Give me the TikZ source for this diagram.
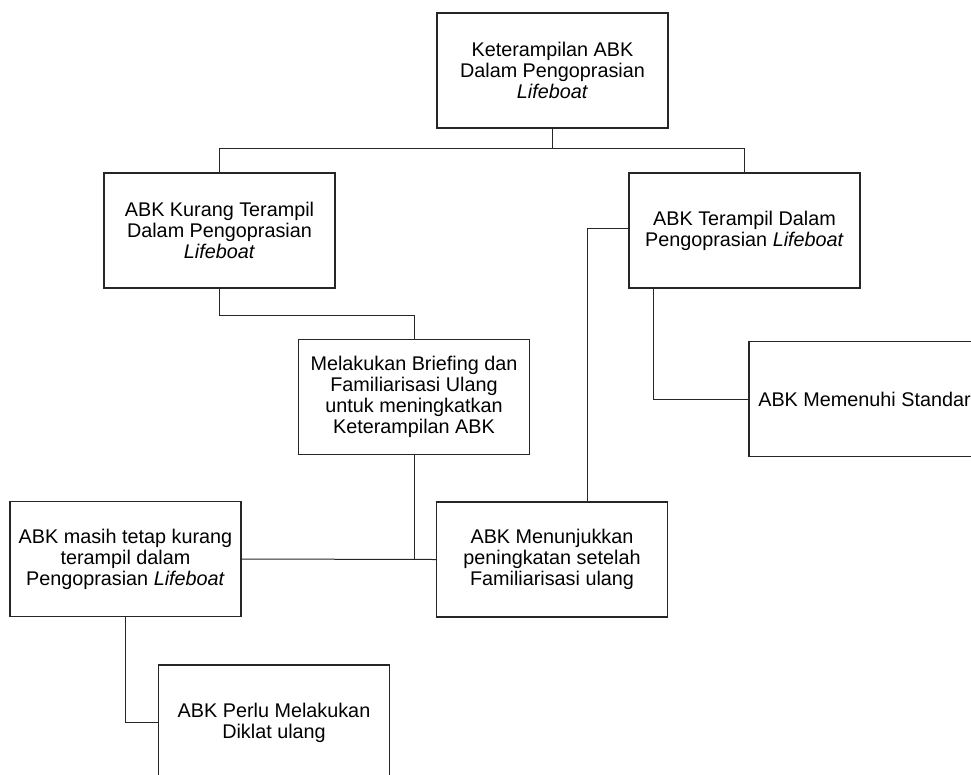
\documentclass[tikz,border=0pt]{standalone}
\usepackage{fontspec}
\setmainfont{Liberation Sans}
\usetikzlibrary{calc}

\tikzset{
  kasten/.style={draw=black!85, line width=1.1pt, minimum width=231pt,
    minimum height=115pt, inner sep=0pt, align=center,
    font=\fontsize{19.8}{21}\selectfont},
  linie/.style={draw=black!85, line width=1pt}
}

\begin{document}
\begin{tikzpicture}[x=1pt,y=-1pt]
\useasboundingbox (0,0) rectangle (971,774);
\clip (0,0) rectangle (971,774);

%EBENE NR. 0 (von oben)
\node [kasten] (ziel) at (552.5,70.5) {Keterampilan ABK\\Dalam Pengoprasian\\\textit{Lifeboat}};

%EBENE NR. 1 (von oben)
\node [kasten] (kurang) at (219.5,230.5) {ABK Kurang Terampil\\Dalam Pengoprasian\\\textit{Lifeboat}};
\node [kasten] (terampil) at (744.5,230.5) {ABK Terampil Dalam\\Pengoprasian \textit{Lifeboat}};

%EBENE NR. 2 (von oben)
\node [kasten] (briefing) at (414,397) {Melakukan Briefing dan\\Familiarisasi Ulang\\untuk meningkatkan\\Keterampilan ABK};
\node [kasten] (standar) at (864.5,399) {ABK Memenuhi Standar};

%EBENE NR. 3 (von oben)
\node [kasten] (masih) at (125.5,559) {ABK masih tetap kurang\\terampil dalam\\Pengoprasian \textit{Lifeboat}};
\node [kasten] (naik) at (552,559.5) {ABK Menunjukkan\\peningkatan setelah\\Familiarisasi ulang};

%EBENE NR. 4 (von oben)
\node [kasten] (diklat) at (274,722.5) {ABK Perlu Melakukan\\Diklat ulang};

%VERBINDUNGEN
\coordinate (gabel) at (552.5,148.5);
\draw [linie] (ziel.south) -- (gabel);
\draw [linie] (gabel) -| (kurang.north);
\draw [linie] (gabel) -| (terampil.north);

\draw [linie] (kurang.south) -- ++(0,27) -| (briefing.north);

\coordinate (knoten) at (briefing.south |- masih.east);
\draw [linie] (briefing.south) -- (knoten);
\draw [linie] (masih.east) -- (naik.west);

\draw [linie] (terampil.west |- 0,228) -| ($(naik.north)+(35.5,0)$);
\draw [linie] ($(terampil.south)+(-91.5,0)$) |- (standar.west);

\draw [linie] (masih.south) |- (diklat.west);

\end{tikzpicture}
\end{document}
